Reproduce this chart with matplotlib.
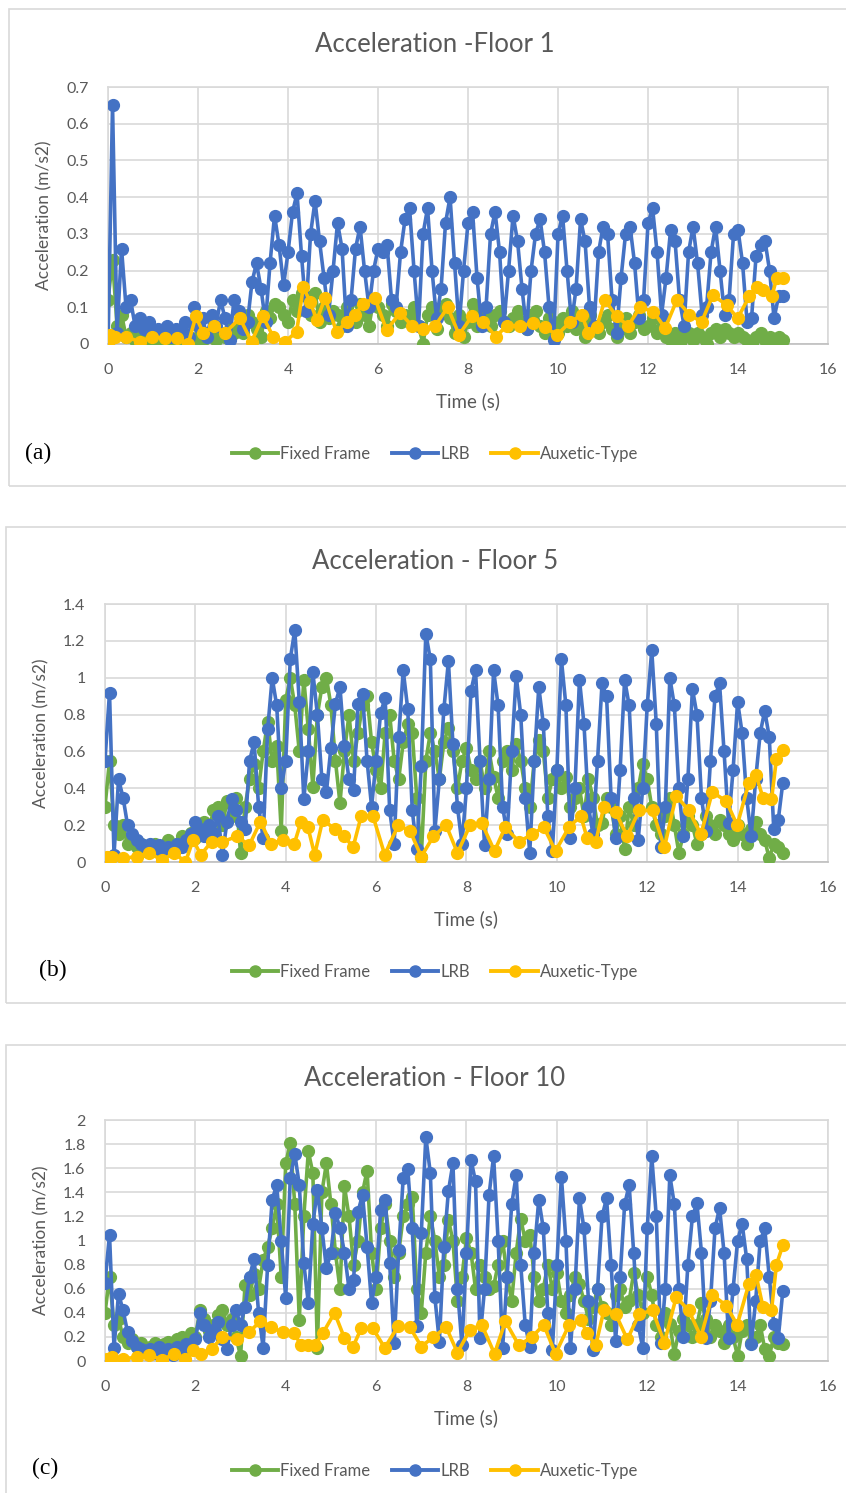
import numpy as np
import matplotlib
matplotlib.use("Agg")
import matplotlib.pyplot as plt
from matplotlib.patches import Rectangle
from matplotlib.lines import Line2D

plt.rcParams["font.family"] = ["Lato", "DejaVu Sans"]

GREEN = "#70AD47"
BLUE = "#4472C4"
GOLD = "#FFC000"
GRID = "#D9D9D9"
TXT = "#595959"

# sampling grid of the structural response (s)
time = np.round(np.arange(0, 15.05, 0.1), 1)
# the auxetic-type record is stored at its own (coarser) time stamps
time_aux = [0.0, 0.05, 0.15, 0.4, 0.7, 0.97, 1.27, 1.53, 1.78, 1.95,
            2.12, 2.36, 2.6, 2.93, 3.19, 3.44, 3.67, 3.93, 4.19, 4.34,
            4.49, 4.64, 4.82, 5.08, 5.3, 5.49, 5.67, 5.93, 6.19, 6.49,
            6.75, 7.0, 7.27, 7.55, 7.8, 8.08, 8.34, 8.62, 8.86, 9.16,
            9.45, 9.71, 9.97, 10.27, 10.53, 10.67, 10.86, 11.04, 11.3, 11.56,
            11.82, 12.12, 12.38, 12.64, 12.92, 13.19, 13.44, 13.75, 13.99, 14.25,
            14.41, 14.56, 14.75, 14.86, 15.0]

series_names = ["Fixed Frame", "LRB", "Auxetic-Type"]

# ---- Floor 1 ----
fixed_f1 = [0.12, 0.23, 0.05, 0.08, 0.02, 0.03, 0.01, 0.02, 0.01, 0.02,
            0.01, 0.02, 0.01, 0.02, 0.0, 0.01, 0.02, 0.01, 0.02, 0.01,
            0.02, 0.01, 0.03, 0.02, 0.01, 0.03, 0.02, 0.04, 0.03, 0.05,
            0.03, 0.08, 0.06, 0.04, 0.02, 0.09, 0.07, 0.11, 0.10, 0.08,
            0.06, 0.12, 0.09, 0.14, 0.13, 0.08, 0.14, 0.06, 0.10, 0.07,
            0.09, 0.08, 0.05, 0.10, 0.07, 0.06, 0.11, 0.08, 0.05, 0.12,
            0.10, 0.08, 0.05, 0.11, 0.09, 0.06, 0.08, 0.07, 0.10, 0.05,
            0.0, 0.08, 0.10, 0.04, 0.09, 0.11, 0.07, 0.03, 0.08, 0.02,
            0.06, 0.11, 0.05, 0.09, 0.07, 0.05, 0.08, 0.09, 0.06, 0.05,
            0.07, 0.09, 0.06, 0.04, 0.08, 0.09, 0.05, 0.03, 0.07, 0.06,
            0.03, 0.07, 0.05, 0.09, 0.04, 0.06, 0.02, 0.08, 0.05, 0.03,
            0.06, 0.08, 0.04, 0.02, 0.05, 0.07, 0.03, 0.06, 0.08, 0.04,
            0.05, 0.07, 0.03, 0.05, 0.02, 0.01, 0.03, 0.0, 0.02, 0.03,
            0.01, 0.03, 0.02, 0.0, 0.03, 0.04, 0.02, 0.04, 0.03, 0.02,
            0.03, 0.02, 0.01, 0.0, 0.02, 0.03, 0.01, 0.02, 0.01, 0.02,
            0.01]
lrb_f1 = [0.0, 0.65, 0.03, 0.26, 0.10, 0.12, 0.05, 0.07, 0.04, 0.06,
          0.03, 0.04, 0.03, 0.05, 0.02, 0.04, 0.03, 0.06, 0.02, 0.10,
          0.05, 0.07, 0.02, 0.08, 0.05, 0.12, 0.07, 0.01, 0.12, 0.09,
          0.04, 0.06, 0.17, 0.22, 0.15, 0.06, 0.22, 0.35, 0.27, 0.16,
          0.25, 0.36, 0.41, 0.24, 0.09, 0.30, 0.39, 0.28, 0.18, 0.08,
          0.20, 0.33, 0.26, 0.05, 0.12, 0.26, 0.32, 0.20, 0.10, 0.20,
          0.26, 0.25, 0.27, 0.12, 0.10, 0.25, 0.34, 0.37, 0.20, 0.05,
          0.30, 0.37, 0.20, 0.07, 0.15, 0.33, 0.40, 0.22, 0.05, 0.20,
          0.33, 0.36, 0.18, 0.05, 0.10, 0.30, 0.36, 0.25, 0.06, 0.20,
          0.35, 0.28, 0.15, 0.04, 0.20, 0.30, 0.34, 0.25, 0.10, 0.01,
          0.30, 0.35, 0.20, 0.06, 0.15, 0.34, 0.28, 0.10, 0.05, 0.25,
          0.32, 0.30, 0.12, 0.03, 0.18, 0.30, 0.32, 0.22, 0.07, 0.12,
          0.33, 0.37, 0.25, 0.08, 0.18, 0.31, 0.28, 0.12, 0.05, 0.25,
          0.32, 0.22, 0.08, 0.10, 0.25, 0.32, 0.20, 0.08, 0.12, 0.30,
          0.31, 0.22, 0.06, 0.07, 0.24, 0.27, 0.28, 0.20, 0.07, 0.13,
          0.13]
aux_f1 = [0.0, 0.025, 0.02, 0.02, 0.006, 0.02, 0.015, 0.015, 0.0, 0.075,
          0.03, 0.05, 0.03, 0.07, 0.006, 0.075, 0.02, 0.006, 0.033, 0.155,
          0.115, 0.065, 0.125, 0.033, 0.06, 0.08, 0.11, 0.125, 0.038, 0.085,
          0.05, 0.04, 0.05, 0.1, 0.025, 0.075, 0.06, 0.02, 0.05, 0.05,
          0.056, 0.047, 0.024, 0.06, 0.08, 0.03, 0.047, 0.12, 0.075, 0.05,
          0.1, 0.088, 0.043, 0.12, 0.08, 0.06, 0.133, 0.106, 0.07, 0.13,
          0.156, 0.147, 0.13, 0.18, 0.18]

# ---- Floor 5 ----
fixed_f5 = [0.30, 0.55, 0.20, 0.15, 0.20, 0.10, 0.12, 0.08, 0.10, 0.06,
            0.08, 0.10, 0.06, 0.09, 0.12, 0.08, 0.10, 0.14, 0.11, 0.16,
            0.13, 0.18, 0.22, 0.17, 0.28, 0.30, 0.20, 0.33, 0.25, 0.35,
            0.05, 0.30, 0.45, 0.53, 0.40, 0.60, 0.76, 0.55, 0.63, 0.17,
            0.88, 1.00, 0.85, 0.60, 0.99, 0.72, 0.41, 0.80, 0.95, 1.00,
            0.85, 0.55, 0.32, 0.60, 0.80, 0.55, 0.70, 0.85, 0.90, 0.65,
            0.50, 0.40, 0.70, 0.80, 0.55, 0.45, 0.65, 0.75, 0.70, 0.35,
            0.03, 0.55, 0.70, 0.60, 0.45, 0.65, 0.73, 0.60, 0.40, 0.55,
            0.62, 0.50, 0.45, 0.55, 0.40, 0.60, 0.46, 0.35, 0.55, 0.60,
            0.50, 0.64, 0.55, 0.40, 0.30, 0.55, 0.66, 0.60, 0.35, 0.45,
            0.50, 0.40, 0.46, 0.30, 0.35, 0.40, 0.25, 0.45, 0.35, 0.20,
            0.21, 0.35, 0.30, 0.15, 0.25, 0.07, 0.30, 0.20, 0.40, 0.53,
            0.45, 0.30, 0.20, 0.15, 0.25, 0.35, 0.20, 0.05, 0.15, 0.25,
            0.20, 0.10, 0.15, 0.25, 0.20, 0.15, 0.23, 0.20, 0.15, 0.12,
            0.20, 0.15, 0.10, 0.18, 0.22, 0.15, 0.12, 0.02, 0.10, 0.08,
            0.05]
lrb_f5 = [0.55, 0.92, 0.04, 0.45, 0.35, 0.20, 0.15, 0.12, 0.10, 0.08,
          0.10, 0.07, 0.09, 0.06, 0.08, 0.07, 0.10, 0.08, 0.12, 0.15,
          0.22, 0.18, 0.14, 0.20, 0.16, 0.25, 0.04, 0.22, 0.34, 0.28,
          0.22, 0.18, 0.55, 0.65, 0.30, 0.13, 0.72, 1.00, 0.85, 0.40,
          0.55, 1.10, 1.26, 0.87, 0.34, 0.60, 1.03, 0.80, 0.45, 0.38,
          0.62, 0.86, 0.95, 0.63, 0.45, 0.39, 0.86, 0.91, 0.55, 0.30,
          0.55, 0.81, 0.89, 0.28, 0.10, 0.68, 1.04, 0.83, 0.28, 0.07,
          0.52, 1.24, 1.10, 0.17, 0.45, 0.83, 1.09, 0.64, 0.30, 0.10,
          0.40, 0.93, 1.04, 0.55, 0.09, 0.45, 1.04, 0.85, 0.30, 0.15,
          0.60, 1.01, 0.80, 0.35, 0.05, 0.55, 0.95, 0.75, 0.25, 0.06,
          0.50, 1.10, 0.85, 0.13, 0.40, 0.99, 0.75, 0.30, 0.15, 0.55,
          0.97, 0.90, 0.35, 0.13, 0.50, 0.99, 0.85, 0.35, 0.12, 0.40,
          0.85, 1.15, 0.75, 0.08, 0.30, 1.00, 0.85, 0.40, 0.14, 0.45,
          0.94, 0.80, 0.35, 0.17, 0.55, 0.90, 0.97, 0.60, 0.21, 0.50,
          0.87, 0.70, 0.35, 0.14, 0.45, 0.70, 0.82, 0.68, 0.18, 0.23,
          0.43]
aux_f5 = [0.0, 0.03, 0.03, 0.02, 0.03, 0.05, 0.01, 0.05, 0.0, 0.12,
          0.04, 0.11, 0.11, 0.14, 0.09, 0.22, 0.10, 0.12, 0.10, 0.22,
          0.19, 0.04, 0.23, 0.18, 0.14, 0.08, 0.25, 0.25, 0.04, 0.20,
          0.17, 0.03, 0.14, 0.20, 0.05, 0.20, 0.21, 0.06, 0.19, 0.11,
          0.15, 0.19, 0.06, 0.19, 0.25, 0.13, 0.11, 0.30, 0.27, 0.14,
          0.28, 0.28, 0.08, 0.36, 0.28, 0.15, 0.38, 0.33, 0.20, 0.43,
          0.47, 0.35, 0.34, 0.56, 0.61]

# ---- Floor 10 ----
fixed_f10 = [0.40, 0.70, 0.30, 0.35, 0.20, 0.15, 0.18, 0.12, 0.15, 0.10,
             0.12, 0.15, 0.10, 0.14, 0.16, 0.12, 0.18, 0.20, 0.15, 0.23,
             0.20, 0.42, 0.35, 0.25, 0.30, 0.38, 0.42, 0.30, 0.35, 0.20,
             0.04, 0.63, 0.55, 0.72, 0.60, 0.84, 0.95, 1.10, 1.30, 0.70,
             1.64, 1.81, 1.30, 0.34, 1.20, 1.74, 1.56, 0.11, 1.40, 1.64,
             1.30, 0.90, 0.60, 1.45, 1.20, 0.80, 1.00, 1.40, 1.58, 0.90,
             0.60, 1.10, 1.30, 1.00, 0.70, 0.90, 1.20, 1.30, 1.36, 0.60,
             0.40, 0.90, 1.20, 1.00, 0.70, 0.80, 1.17, 1.00, 0.50, 0.70,
             1.02, 0.90, 0.60, 0.80, 0.70, 0.60, 0.62, 0.80, 1.00, 0.70,
             0.50, 0.90, 1.18, 1.00, 1.05, 0.70, 0.50, 0.60, 0.80, 0.60,
             0.73, 0.50, 0.40, 0.55, 0.70, 0.64, 0.50, 0.35, 0.45, 0.60,
             0.45, 0.40, 0.30, 0.55, 0.60, 0.45, 0.50, 0.73, 0.55, 0.40,
             0.70, 0.55, 0.30, 0.20, 0.40, 0.31, 0.06, 0.25, 0.35, 0.30,
             0.20, 0.30, 0.48, 0.35, 0.20, 0.30, 0.25, 0.15, 0.30, 0.20,
             0.04, 0.25, 0.30, 0.15, 0.20, 0.30, 0.10, 0.04, 0.20, 0.15,
             0.14]
lrb_f10 = [0.65, 1.05, 0.11, 0.56, 0.42, 0.24, 0.17, 0.12, 0.10, 0.08,
           0.10, 0.07, 0.12, 0.06, 0.10, 0.05, 0.12, 0.08, 0.14, 0.10,
           0.18, 0.40, 0.30, 0.20, 0.26, 0.32, 0.18, 0.10, 0.30, 0.42,
           0.30, 0.45, 0.70, 0.85, 0.40, 0.11, 0.80, 1.34, 1.46, 1.00,
           0.52, 1.52, 1.72, 1.46, 0.81, 0.48, 1.14, 1.42, 1.10, 0.77,
           0.90, 1.23, 1.10, 0.90, 0.60, 0.67, 1.24, 1.38, 0.95, 0.48,
           0.70, 1.25, 1.34, 0.81, 0.15, 0.92, 1.52, 1.59, 1.10, 0.29,
           1.06, 1.86, 1.56, 0.53, 0.16, 0.95, 1.41, 1.64, 0.60, 0.13,
           0.90, 1.67, 1.49, 0.19, 0.60, 1.38, 1.70, 1.00, 0.11, 0.70,
           1.30, 1.54, 0.80, 0.30, 0.12, 0.90, 1.34, 1.10, 0.40, 0.09,
           0.80, 1.53, 1.00, 0.11, 0.60, 1.35, 1.10, 0.50, 0.09, 0.60,
           1.20, 1.35, 0.80, 0.17, 0.70, 1.30, 1.46, 0.90, 0.30, 0.11,
           1.10, 1.70, 1.20, 0.15, 0.60, 1.54, 1.30, 0.60, 0.20, 0.80,
           1.20, 1.31, 0.90, 0.19, 0.50, 1.10, 1.27, 0.90, 0.19, 0.60,
           1.00, 1.14, 0.85, 0.14, 0.50, 1.00, 1.10, 0.70, 0.31, 0.19,
           0.58]
aux_f10 = [0.01, 0.02, 0.03, 0.02, 0.03, 0.05, 0.01, 0.06, 0.02, 0.09,
           0.06, 0.10, 0.20, 0.18, 0.24, 0.33, 0.28, 0.24, 0.23, 0.13,
           0.13, 0.13, 0.23, 0.40, 0.19, 0.12, 0.27, 0.27, 0.11, 0.29,
           0.28, 0.12, 0.20, 0.28, 0.07, 0.26, 0.30, 0.06, 0.33, 0.13,
           0.20, 0.30, 0.06, 0.30, 0.34, 0.23, 0.13, 0.42, 0.39, 0.18,
           0.39, 0.42, 0.15, 0.53, 0.42, 0.20, 0.55, 0.46, 0.30, 0.64,
           0.71, 0.45, 0.42, 0.80, 0.96]

x_ticks = [0, 2, 4, 6, 8, 10, 12, 14, 16]
y_ticks_f1 = [0, 0.1, 0.2, 0.3, 0.4, 0.5, 0.6, 0.7]
y_ticks_f5 = [0, 0.2, 0.4, 0.6, 0.8, 1.0, 1.2, 1.4]
y_ticks_f10 = [0, 0.2, 0.4, 0.6, 0.8, 1.0, 1.2, 1.4, 1.6, 1.8, 2.0]

titles = ["Acceleration -Floor 1", "Acceleration - Floor 5", "Acceleration - Floor 10"]
letters = ["(a)", "(b)", "(c)"]

panels = [
    dict(data=(fixed_f1, lrb_f1, aux_f1), yt=y_ticks_f1,
         rect=[0.1277, 0.7696, 0.8511, 0.1721], box=(0.0106, 0.6745, 0.3195),
         title_y=0.9705, leg_y=0.696, let=(0.045, 0.696)),
    dict(data=(fixed_f5, lrb_f5, aux_f5), yt=y_ticks_f5,
         rect=[0.1241, 0.4226, 0.8546, 0.1728], box=(0.0071, 0.3282, 0.3188),
         title_y=0.6236, leg_y=0.349, let=(0.062, 0.350)),
    dict(data=(fixed_f10, lrb_f10, aux_f10), yt=y_ticks_f10,
         rect=[0.1241, 0.0884, 0.8546, 0.1614], box=(0.0071, -0.01, 0.31),
         title_y=0.2773, leg_y=0.0147, let=(0.053, 0.0165)),
]

fig = plt.figure(figsize=(8.46, 14.93), dpi=100)

for i, p in enumerate(panels):
    bx, by, bh = p["box"]
    fig.patches.append(Rectangle((bx, by), 1.2, bh, transform=fig.transFigure,
                                 fill=False, edgecolor=GRID, linewidth=1.2))
    ax = fig.add_axes(p["rect"])
    fixed, lrb, aux = p["data"]
    ax.plot(time, fixed, color=GREEN, marker="o", markersize=8.5, linewidth=2.6,
            label=series_names[0], zorder=3)
    ax.plot(time, lrb, color=BLUE, marker="o", markersize=8.5, linewidth=2.6,
            label=series_names[1], zorder=4)
    ax.plot(time_aux, aux, color=GOLD, marker="o", markersize=8.5, linewidth=2.6,
            label=series_names[2], zorder=5)

    ax.set_xlim(0, 16)
    ax.set_ylim(0, p["yt"][-1])
    ax.set_xticks(x_ticks)
    ax.set_yticks(p["yt"])
    ax.set_yticklabels([f"{v:g}" for v in p["yt"]])
    ax.grid(True, color=GRID, linewidth=1.2, zorder=0)
    ax.set_axisbelow(True)
    for s in ax.spines.values():
        s.set_color(GRID)
        s.set_linewidth(1.2)
    ax.spines["bottom"].set_color("#BFBFBF")
    ax.tick_params(length=0, labelsize=11.5, labelcolor=TXT)
    ax.tick_params(axis="y", pad=14)
    ax.tick_params(axis="x", pad=13.5)
    ax.set_xlabel("Time (s)", fontsize=13.5, color=TXT, labelpad=11)
    ax.set_ylabel("Acceleration (m/s2)", fontsize=12.5, color=TXT, labelpad=10)

    fig.text(0.514, p["title_y"], titles[i], ha="center", va="center",
             fontsize=18.5, color=TXT)
    fig.text(p["let"][0], p["let"][1], letters[i], ha="center", va="center",
             fontsize=17, family="Liberation Serif", color="black")

    handles = [Line2D([], [], color=c, marker="o", markersize=8, linewidth=2.8)
               for c in (GREEN, BLUE, GOLD)]
    fig.legend(handles, series_names, loc="center", ncol=3,
               bbox_to_anchor=(0.514, p["leg_y"]), frameon=False,
               fontsize=12, labelcolor=TXT, handlelength=2.8,
               handletextpad=0.1, columnspacing=1.3)

fig.savefig("out.png", dpi=100, facecolor="white")
